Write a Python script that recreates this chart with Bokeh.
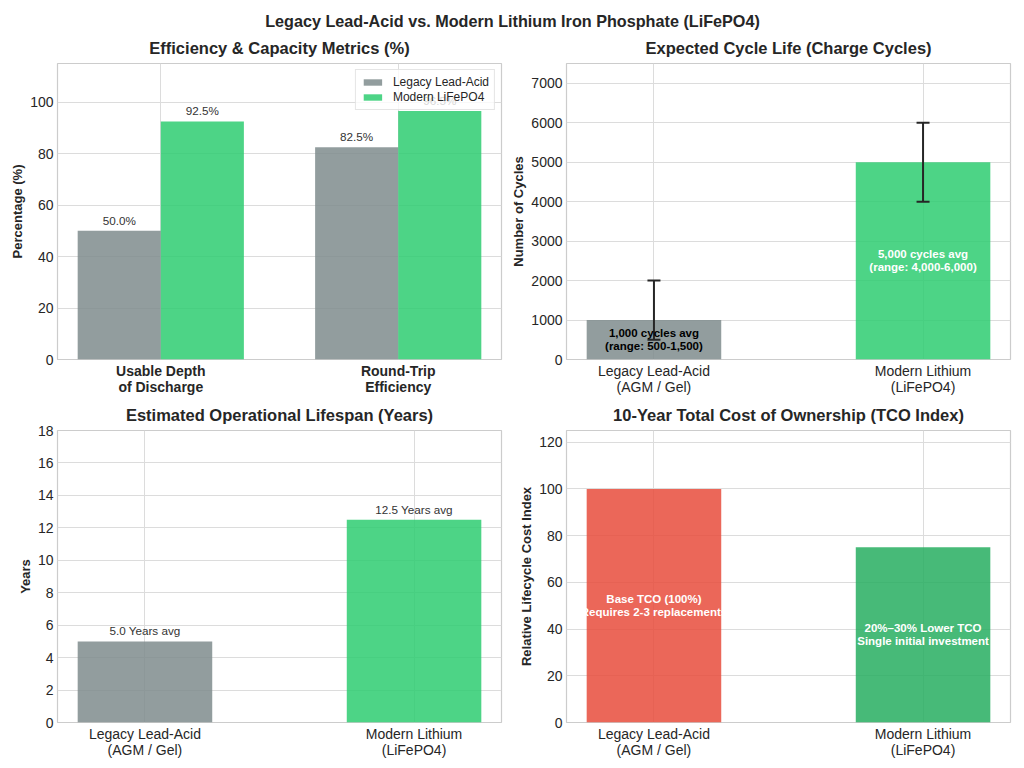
from bokeh.plotting import figure
from bokeh.models import (ColumnDataSource, LabelSet, Label, Whisker, TeeHead,
                          FixedTicker, Range1d, Legend, LegendItem)
from bokeh.layouts import column, row
from bokeh.embed import file_html
from bokeh.resources import INLINE
from bokeh.core.properties import value
import numpy as np

FONT = "Liberation Sans"
TXT = "#262626"

# ---------------- data ----------------
suptitle = "Legacy Lead-Acid vs. Modern Lithium Iron Phosphate (LiFePO4)"

metric_categories = ["Usable Depth\nof Discharge", "Round-Trip\nEfficiency"]
lead_metric_values = [50.0, 82.5]
lfp_metric_values = [92.5, 96.5]
series_names = ["Legacy Lead-Acid", "Modern LiFePO4"]

tech_categories = ["Legacy Lead-Acid\n(AGM / Gel)", "Modern Lithium\n(LiFePO4)"]
cycles_avg = [1000, 5000]
cycles_low = [500, 4000]
cycles_high = [2000, 6000]
cycles_text = ["1,000 cycles avg\n(range: 500-1,500)",
               "5,000 cycles avg\n(range: 4,000-6,000)"]

lifespan_years = [5.0, 12.5]
lifespan_text = ["5.0 Years avg", "12.5 Years avg"]

tco_index = [100, 75]
tco_text = ["Base TCO (100%)\nRequires 2-3 replacements",
            "20%\u201330% Lower TCO\nSingle initial investment"]

metric_ticks = [0, 20, 40, 60, 80, 100]
cycle_ticks = [0, 1000, 2000, 3000, 4000, 5000, 6000, 7000]
year_ticks = [0, 2, 4, 6, 8, 10, 12, 14, 16, 18]
tco_ticks = [0, 20, 40, 60, 80, 100, 120]

GREY = "#7f8c8d"
GREEN = "#2ecc71"
RED = "#e74c3c"
DGREEN = "#27ae60"
ALPHA = 0.85


def make_fig(width, height, mb_left, mb_right, mb_top, mb_bottom, title, x_range, y_range):
    p = figure(width=width, height=height, x_range=x_range, y_range=y_range,
               toolbar_location=None, output_backend="svg",
               min_border_left=mb_left, min_border_right=mb_right,
               min_border_top=mb_top, min_border_bottom=mb_bottom,
               title=title)
    p.title.text_font = FONT
    p.title.text_font_size = "16.5px"
    p.title.text_font_style = "bold"
    p.title.text_color = TXT
    p.title.align = "center"
    p.title.standoff = 13
    p.outline_line_color = "#cccccc"
    p.outline_line_width = 1.2
    p.background_fill_color = "white"
    p.border_fill_color = "white"
    for ax in p.axis:
        ax.axis_line_color = None
        ax.major_tick_line_color = None
        ax.minor_tick_line_color = None
        ax.major_tick_out = 0
        ax.major_tick_in = 0
        ax.major_label_text_font = FONT
        ax.major_label_text_font_size = "14px"
        ax.major_label_text_color = TXT
        ax.axis_label_text_font = FONT
        ax.axis_label_text_font_size = "13px"
        ax.axis_label_text_font_style = "bold"
        ax.axis_label_text_color = TXT
    p.xaxis.major_label_standoff = 3
    p.xaxis.major_label_text_line_height = 1.0
    p.yaxis.major_label_standoff = 4
    p.yaxis.axis_label_standoff = 2
    p.grid.grid_line_color = "#dcdcdc"
    p.grid.grid_line_width = 1
    return p


def set_cat_axis(p, labels):
    idx = list(range(len(labels)))
    p.xaxis.ticker = FixedTicker(ticks=idx)
    p.xaxis.major_label_overrides = {i: lab for i, lab in zip(idx, labels)}
    p.xgrid.ticker = FixedTicker(ticks=idx)


def inbar_labels(p, src, color_field_or_value):
    # two centered lines, 13px apart
    for fld, off in (("l1", 6.5), ("l2", -6.5)):
        p.add_layout(LabelSet(x="x", y="mid", text=fld, source=src, text_align="center",
                              text_baseline="middle", y_offset=off,
                              text_font=value(FONT), text_font_size="11.5px",
                              text_font_style="bold", level="overlay",
                              text_color=color_field_or_value))


LW, RW = 503, 517          # left / right figure widths
TH, BH = 367, 363          # top / bottom row heights

# ---------------- suptitle ----------------
ptitle = figure(width=LW + RW, height=30, x_range=(0, LW + RW), y_range=(0, 30),
                toolbar_location=None, output_backend="svg",
                x_axis_type=None, y_axis_type=None, min_border=0)
ptitle.outline_line_color = None
ptitle.grid.visible = False
ptitle.add_layout(Label(x=512, y=10, text=suptitle, text_align="center",
                        text_baseline="middle", text_font=FONT,
                        text_font_size="16.2px", text_font_style="bold",
                        text_color=TXT))

# ---------------- panel 1: metrics ----------------
m_idx = np.arange(len(metric_categories))
bw = 0.35
p1 = make_fig(LW, TH, 57, 2, 33, 38, "Efficiency & Capacity Metrics (%)",
              Range1d(-0.435, 1.435), Range1d(0, 115))
set_cat_axis(p1, metric_categories)
p1.xaxis.major_label_text_font_style = "bold"
p1.yaxis.ticker = FixedTicker(ticks=metric_ticks)
p1.yaxis.axis_label = "Percentage (%)"
src_lead = ColumnDataSource(dict(x=m_idx - bw / 2, top=lead_metric_values,
                                 lab=[f"{v:.1f}%" for v in lead_metric_values]))
src_lfp = ColumnDataSource(dict(x=m_idx + bw / 2, top=lfp_metric_values,
                                lab=[f"{v:.1f}%" for v in lfp_metric_values]))
r_lead = p1.vbar(x="x", top="top", width=bw, source=src_lead, fill_color=GREY,
                 fill_alpha=ALPHA, line_color=None)
r_lfp = p1.vbar(x="x", top="top", width=bw, source=src_lfp, fill_color=GREEN,
                fill_alpha=ALPHA, line_color=None)
for s in (src_lead, src_lfp):
    p1.text(x="x", y="top", text="lab", source=s, text_align="center",
            text_baseline="bottom", y_offset=-4, text_font=value(FONT),
            text_font_size="11.7px", text_color="#333333")
leg = Legend(items=[LegendItem(label=series_names[0], renderers=[r_lead]),
                    LegendItem(label=series_names[1], renderers=[r_lfp])],
             location="top_right")
leg.margin = 6
leg.padding = 5
leg.spacing = 1
leg.glyph_width = 23
leg.glyph_height = 8
leg.label_height = 13
leg.label_standoff = 9
leg.label_text_font = FONT
leg.label_text_font_size = "12px"
leg.label_text_color = TXT
leg.border_line_color = "#cccccc"
leg.background_fill_alpha = 0.8
p1.add_layout(leg)

# ---------------- panel 2: cycle life ----------------
t_idx = np.arange(len(tech_categories))
bw2 = 0.5
p2 = make_fig(RW, TH, 63, 10, 33, 38, "Expected Cycle Life (Charge Cycles)",
              Range1d(-0.325, 1.325), Range1d(0, 7500))
set_cat_axis(p2, tech_categories)
p2.yaxis.ticker = FixedTicker(ticks=cycle_ticks)
p2.yaxis.axis_label = "Number of Cycles"
src_c = ColumnDataSource(dict(x=t_idx, top=cycles_avg, low=cycles_low, high=cycles_high,
                              mid=np.array(cycles_avg) / 2,
                              l1=[t.split("\n")[0] for t in cycles_text],
                              l2=[t.split("\n")[1] for t in cycles_text],
                              color=[GREY, GREEN], tcol=["black", "white"]))
p2.vbar(x="x", top="top", width=bw2, source=src_c, fill_color="color",
        fill_alpha=ALPHA, line_color=None)
w = Whisker(source=src_c, base="x", upper="high", lower="low", dimension="height",
            line_color=TXT, line_width=2, level="annotation",
            upper_head=TeeHead(size=13, line_color=TXT, line_width=2),
            lower_head=TeeHead(size=13, line_color=TXT, line_width=2))
p2.add_layout(w)
inbar_labels(p2, src_c, "tcol")

# ---------------- panel 3: lifespan ----------------
p3 = make_fig(LW, BH, 57, 2, 30, 37, "Estimated Operational Lifespan (Years)",
              Range1d(-0.325, 1.325), Range1d(0, 18))
set_cat_axis(p3, tech_categories)
p3.yaxis.ticker = FixedTicker(ticks=year_ticks)
p3.yaxis.axis_label = "Years"
src_y = ColumnDataSource(dict(x=t_idx, top=lifespan_years, lab=lifespan_text,
                              color=[GREY, GREEN]))
p3.vbar(x="x", top="top", width=bw2, source=src_y, fill_color="color",
        fill_alpha=ALPHA, line_color=None)
p3.text(x="x", y="top", text="lab", source=src_y, text_align="center",
        text_baseline="bottom", y_offset=-4, text_font=value(FONT),
        text_font_size="11.7px", text_color="#333333")

# ---------------- panel 4: TCO ----------------
p4 = make_fig(RW, BH, 63, 10, 30, 37, "10-Year Total Cost of Ownership (TCO Index)",
              Range1d(-0.325, 1.325), Range1d(0, 125))
set_cat_axis(p4, tech_categories)
p4.yaxis.ticker = FixedTicker(ticks=tco_ticks)
p4.yaxis.axis_label = "Relative Lifecycle Cost Index"
src_t = ColumnDataSource(dict(x=t_idx, top=tco_index, mid=np.array(tco_index) / 2,
                              l1=[t.split("\n")[0] for t in tco_text],
                              l2=[t.split("\n")[1] for t in tco_text],
                              color=[RED, DGREEN]))
p4.vbar(x="x", top="top", width=bw2, source=src_t, fill_color="color",
        fill_alpha=ALPHA, line_color=None)
inbar_labels(p4, src_t, "white")

layout = column(ptitle, row(p1, p2), row(p3, p4))
open("out.html", "w").write(file_html(layout, INLINE))
